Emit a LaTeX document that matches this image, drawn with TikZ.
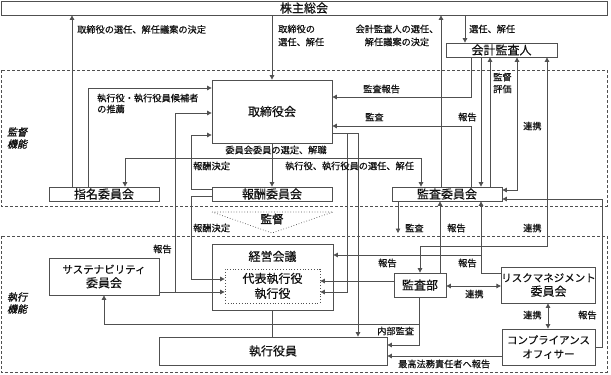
\documentclass[tikz,border=0pt]{standalone}
\usepackage{fontspec}
\setmainfont{Noto Sans CJK JP}[FakeBold=0.4]
\newfontfamily\jpslant[FakeSlant=0.25,FakeBold=1.2]{Noto Sans CJK JP}
\newfontfamily\jpbold[FakeBold=1.5]{Noto Sans CJK JP}
\usepackage{tikz}
\usetikzlibrary{arrows.meta,positioning}
\definecolor{linec}{HTML}{505050}
\definecolor{inkc}{HTML}{111111}
\newcommand{\kn}[1]{{\fontsize{10.5}{12}\selectfont #1}}
\tikzset{
  ln/.style={draw=linec,line width=0.8pt},
  ar/.style={ln,-{Triangle[length=4.5pt,width=4.5pt]}},
  dar/.style={ln,{Triangle[length=4.5pt,width=4.5pt]}-{Triangle[length=4.5pt,width=4.5pt]}},
  box/.style={ln,fill=white,inner sep=0pt,align=center,text=inkc,font=\fontsize{12}{14}\selectfont},
  lbl/.style={inner sep=0pt,align=left,text=inkc,font=\fontsize{9.2}{11}\selectfont},
  zonebox/.style={draw=linec,line width=0.7pt,dash pattern=on 3pt off 2pt}
}
\begin{document}
\begin{tikzpicture}[x=1pt,y=-1pt]
\fill[white] (0,0) rectangle (611,375);
\useasboundingbox (0,0) rectangle (611,375);
\draw[zonebox] (1,70) rectangle (607,206);
\draw[zonebox] (1,236) rectangle (607,372);
\draw[linec,dotted,line width=0.7pt] (212,212) -- (333,212) -- (272,233) -- cycle;
\node[lbl,font=\jpbold\fontsize{11.5}{13}\selectfont] (kantoku) at (272,219) {監督};
\node[lbl,align=center,font=\jpslant\fontsize{10}{12}\selectfont] (sideA) at (17,138) {監督\\機能};
\node[lbl,align=center,font=\jpslant\fontsize{10}{12}\selectfont] (sideB) at (17,303) {執行\\機能};

\node[box,minimum width=606pt,minimum height=14pt] (kabu) at (304,8) {株主総会};
\node[box,minimum width=111pt,minimum height=14pt] (kaikei) at (501.5,50) {会計監査人};
\node[box,minimum width=120pt,minimum height=63pt] (tori) at (272,111.5) {取締役会};
\node[box,minimum width=110pt,minimum height=14pt] (shimei) at (104,194) {指名委員会};
\node[box,minimum width=120pt,minimum height=14pt] (houshu) at (272,194) {報酬委員会};
\node[box,minimum width=110pt,minimum height=14pt] (kaniin) at (447,194) {監査委員会};
\node[box,minimum width=110pt,minimum height=37pt] (sust) at (104,276.5) {\kn{サステナビリティ}\\委員会};
\node[box,minimum width=121pt,minimum height=66pt,label={[name=keieit,inner sep=0pt,text=inkc,font=\fontsize{12}{14}\selectfont,anchor=north,yshift=-7pt]north:経営会議}] (keiei) at (272.5,277) {};
\node[box,dotted,minimum width=95pt,minimum height=34pt,font=\fontsize{12}{15}\selectfont] (daihyo) at (272.5,286) {代表執行役\\執行役};
\node[box,minimum width=228pt,minimum height=28pt] (yakuin) at (273,351) {執行役員};
\node[box,minimum width=52pt,minimum height=24pt] (kansabu) at (420,285) {監査部};
\node[box,minimum width=93pt,minimum height=36pt] (risk) at (548.5,285) {\kn{リスクマネジメント}\\委員会};
\node[box,minimum width=93pt,minimum height=36pt] (comp) at (548.5,347) {\kn{コンプライアンス}\\\kn{オフィサー}};

\draw[ar] (shimei.north -| 72,0) -- (kabu.south -| 72,0);
\draw[ar] (kabu.south -| tori.north) -- (tori.north);
\draw[ar] (kaniin.north -| 441,0) -- (kabu.south -| 441,0);
\draw[ar] (kabu.south -| 465,0) -- (kaikei.north -| 465,0);
\draw[ar] (kaikei.south -| 471,0) |- (tori.east |- 0,97);
\draw[ar] (kaikei.south -| 481,0) -- (kaniin.north -| 481,0);
\draw[ar] (kaniin.north -| 490,0) -- (kaikei.south -| 490,0);
\draw[dar] (kaikei.south -| 517,0) |- (kaniin.east |- 0,190);
\draw[dar] (kaikei.south -| 547,0) |- (kansabu.north |- 0,246) -- (kansabu.north);
\draw[ar] (kaniin.north -| 471,0) |- (tori.east |- 0,126);
\draw[ar] (tori.south) -- (houshu.north);
\draw[ar] (tori.south |- 0,158) -| (shimei.north -| 125,0);
\draw[ar] (tori.south |- 0,158) -| (kaniin.north -| 421,0);
\draw[ar] (tori.east |- 0,133) -| (yakuin.north -| 358,0);
\draw[ar] (tori.east |- 0,133) -| (347,292) -- (daihyo.east |- 0,292);
\draw[ar] (shimei.north -| 88,0) |- (tori.west |- 0,88);
\draw[ar] (houshu.west |- 0,189) -| (191,135) -- (tori.west |- 0,135);
\draw[ar] (houshu.west |- 0,196) -| (191,279) -- (daihyo.west |- 0,279);
\draw[ar] (sust.east |- 0,292) -- (daihyo.west |- 0,292);
\draw[ar] (sust.east |- 0,292) -| (175,113) -- (tori.west |- 0,113);
\draw[ln] (keiei.south) -- (yakuin.north -| keiei.south);
\draw[ar] (kansabu.south -| 419,0) |- (yakuin.east |- 0,345);
\draw[ar] (kansabu.south -| 419,0) |- (sust.south |- 0,324) -- (sust.south);
\draw[ar] (kansabu.west |- 0,281) -- (daihyo.east |- 0,281);
\draw[ar] (risk.west |- 0,273) -| (kaniin.south -| 481,0);
\draw[ar] (risk.west |- 0,273) -| (481,255) -- (keiei.east |- 0,255);
\draw[ar] (kansabu.north -| 440,0) -- (kaniin.south -| 440,0);
\coordinate (kansaend) at (398,233);
\draw[ar] (kaniin.south -| 398,0) -- (kansaend);
\draw[dar] (kansabu.east |- 0,286) -- (risk.west |- 0,286);
\draw[dar] (risk.south -| 548,0) -- (comp.north -| 548,0);
\draw[ar] (comp.east |- 0,347) -| (602,199) -- (kaniin.east |- 0,199);
\draw[ar] (comp.west |- 0,356) -- (yakuin.east |- 0,356);

\foreach \t/\x/\y [count=\i] in {取締役の選任、解任議案の決定/77/29.5, 選任、解任/469/29, 監査報告/363/89, 監査/365/117, 報告/458/117, 連携/523/126, 報酬決定/193/166, 報酬決定/193/228, 監査/405/228, 報告/447/228, 連携/523/228, 報告/153/249, 報告/378/263, 報告/458/263, 連携/465/294, 連携/523/315, 報告/578/315, 内部監査/377/331, 最高法務責任者へ報告/398/364}
  {\node[lbl,anchor=west] (lb\i) at (\x,\y) {\t};}
\node[lbl,anchor=west,font=\fontsize{9.2}{13}\selectfont] (lbTori) at (278,35.5) {取締役の\\選任、解任};
\node[lbl,align=center,font=\fontsize{9.2}{13}\selectfont] (lbKaikei) at (397,35.5) {会計監査人の選任、\\解任議案の決定};
\node[lbl,anchor=west,font=\fontsize{9.2}{12}\selectfont] (lbHyoka) at (493,83) {監督\\評価};
\node[lbl,anchor=west] (lbSuisen) at (97,103.5) {執行役・執行役員候補者\\の推薦};
\node[lbl] (lbIin) at (276,150) {委員会委員の選定、解職};
\node[lbl,anchor=west] (lbSenin) at (285,166) {執行役、執行役員の選任、解任};
\end{tikzpicture}
\end{document}
